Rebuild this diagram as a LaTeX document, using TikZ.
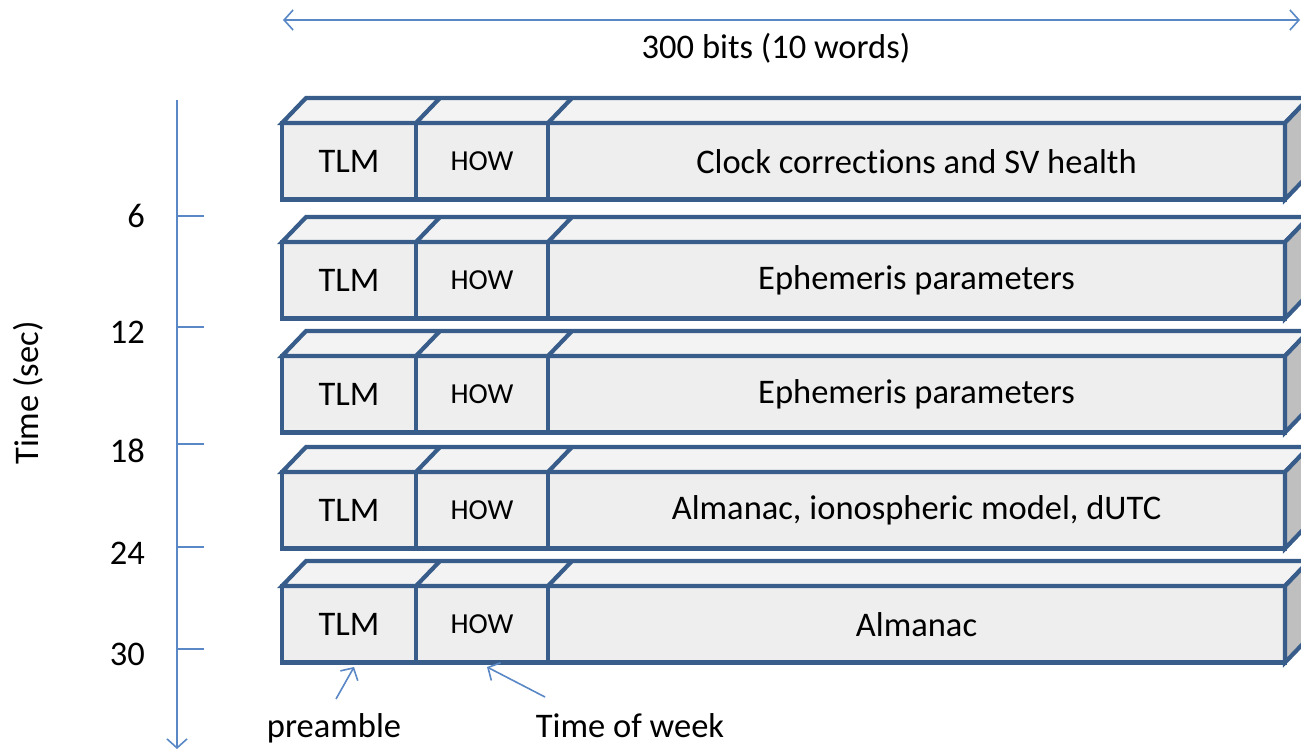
\documentclass[tikz,border=0pt]{standalone}
\usepackage{fontspec}
\setmainfont{Carlito}[Ligatures=NoCommon]
\usetikzlibrary{arrows.meta,calc}
\definecolor{boxline}{HTML}{385D8A}
\definecolor{frontfill}{HTML}{EEEEEE}
\definecolor{topfill}{HTML}{F3F3F3}
\definecolor{sidefill}{HTML}{BFBFBF}
\definecolor{arrowblue}{HTML}{5A87C5}
\tikzset{
  cell/.style={draw=boxline, fill=frontfill, line width=4.2pt, outer sep=0pt, inner sep=0pt,
    anchor=north west, minimum height=76.5pt, font=\fontsize{34.5}{40}\selectfont},
  howtext/.style={font=\fontsize{29}{34}\selectfont},
  topface/.style={draw=boxline, fill=topfill, line width=4.2pt},
  sideface/.style={draw=boxline, fill=sidefill, line width=4.2pt},
  edge/.style={draw=boxline, line width=4.2pt},
  thinblue/.style={draw=arrowblue, line width=1.6pt},
  barb/.style={-{Straight Barb[length=9pt,width=20pt,line width=1.6pt]}},
  lbl/.style={font=\fontsize{34.5}{40}\selectfont, inner sep=0pt}
}
\begin{document}
\begin{tikzpicture}[x=1pt,y=-1pt]
\useasboundingbox (0,0) rectangle (1301,751);
\clip (0,0) rectangle (1301,751);

% rows
\foreach \i/\t/\txt in {1/123/{Clock corrections and SV health},2/242/{Ephemeris parameters},3/356/{Ephemeris parameters},4/472/{Almanac, ionospheric model, dUTC},5/586/{Almanac}}{
  \node[cell, minimum width=134pt] (tlm\i) at (282,\t) {TLM};
  \node[cell, minimum width=132pt, howtext] (how\i) at (416,\t) {HOW};
  \node[cell, minimum width=737pt] (msg\i) at (548,\t) {\txt};
  \path[topface] (tlm\i.north west) -- ++(24,-25) -- ($(msg\i.north east)+(24,-25)$) -- (msg\i.north east) -- cycle;
  \path[sideface] (msg\i.north east) -- ++(24,-25) -- ($(msg\i.south east)+(24,-25)$) -- (msg\i.south east) -- cycle;
  \path[edge] (how\i.north west) -- ++(24,-25);
  \path[edge] (msg\i.north west) -- ++(24,-25);
}

% width arrow
\coordinate (wl) at (283,20);
\coordinate (wr) at (1300,20);
\draw[thinblue, {Straight Barb[length=9pt,width=20pt,line width=1.6pt]}-{Straight Barb[length=9pt,width=20pt,line width=1.6pt]}] (wl) -- (wr);
\node[lbl] (bits) at (776,48) {300 bits (10 words)};

% time axis
\coordinate (axtop) at (177,100);
\coordinate (axbot) at (177,749);
\draw[thinblue, barb] (axtop) -- (axbot);
\foreach \v/\y/\ly in {6/216/216,12/327/332,18/444/451,24/547/553,30/649/654}{
  \coordinate (tk\v) at (177,\y);
  \coordinate (te\v) at (204,\y);
  \draw[thinblue] (tk\v) -- (te\v);
  \node[lbl, anchor=east] (lab\v) at (145,\ly) {\v};
}
\node[lbl, rotate=90] (tlabel) at (28,393) {Time (sec)};

% bottom labels
\node[lbl] (pre) at (334,728) {preamble};
\node[lbl] (tow) at (630,726) {Time of week};
\coordinate (preT) at (336,699);
\coordinate (preH) at (354,667);
\coordinate (towT) at (545,697);
\coordinate (towH) at (487,667);
\draw[thinblue, barb] (preT) -- (preH);
\draw[thinblue, barb] (towT) -- (towH);
\end{tikzpicture}
\end{document}
